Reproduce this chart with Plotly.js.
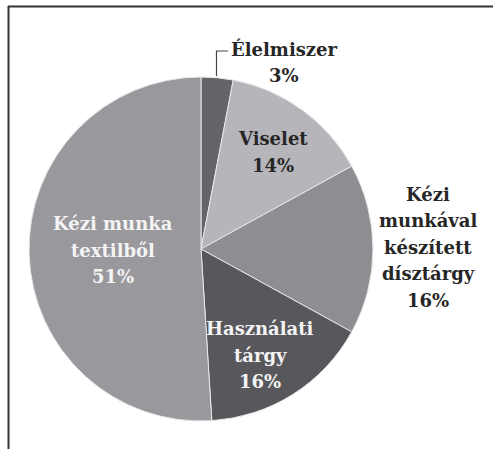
<!DOCTYPE html>
<html>
<head>
<meta charset="utf-8">
<script src="https://cdn.plot.ly/plotly-3.0.1.min.js"></script>
<style>html,body{margin:0;padding:0;background:#fff;}#chart{width:493px;height:449px;}</style>
</head>
<body>
<div id="chart"></div>
<script>
// Data
const categories = ["Élelmiszer", "Viselet", "Kézi munkával készített dísztárgy", "Használati tárgy", "Kézi munka textilből"];
const labelLines = [["Élelmiszer"], ["Viselet"], ["Kézi", "munkával", "készített", "dísztárgy"], ["Használati", "tárgy"], ["Kézi munka", "textilből"]];
const values = [3, 14, 16, 16, 51];
const sliceColors = ["#646469", "#b6b6ba", "#8d8d92", "#58585c", "#98989d"];

const W = 493, H = 449;
const px = x => x / W;
const py = y => 1 - y / H;

// pie geometry (pixels)
const cx = 201, cy = 249, R = 172;

// label centres (pixels) and colours
const labelPos = [[284, 62], [273, 152], [428, 247], [260, 355], [113, 250]];
const labelColor = ["#262626", "#262626", "#262626", "#f4f4f4", "#f4f4f4"];
const lineStep = 26.5;

const fontFam = "DejaVu Serif";

const annotations = [];
categories.forEach((c, i) => {
  const lines = labelLines[i].concat([values[i] + "%"]);
  const n = lines.length;
  lines.forEach((t, k) => {
    annotations.push({
      xref: "paper", yref: "paper",
      x: px(labelPos[i][0]), y: py(labelPos[i][1] + (k - (n - 1) / 2) * lineStep),
      xanchor: "center", yanchor: "middle",
      text: "<b>" + t + "</b>",
      showarrow: false,
      align: "center",
      font: {family: fontFam, size: 18, color: labelColor[i]}
    });
  });
});

const data = [{
  type: "pie",
  labels: categories,
  values: values,
  sort: false,
  direction: "clockwise",
  rotation: 0,
  textinfo: "none",
  hoverinfo: "none",
  marker: {colors: sliceColors, line: {color: "#e8e8ea", width: 1}},
  domain: {x: [px(cx - R), px(cx + R)], y: [py(cy + R), py(cy - R)]},
  showlegend: false
}];

const layout = {
  width: W, height: H,
  margin: {l: 0, r: 0, t: 0, b: 0},
  paper_bgcolor: "#ffffff",
  plot_bgcolor: "#ffffff",
  showlegend: false,
  font: {family: fontFam},
  annotations: annotations,
  shapes: [
    {type: "line", xref: "paper", yref: "paper", x0: px(8), x1: 1, y0: py(6.5), y1: py(6.5), line: {color: "#333333", width: 2}},
    {type: "line", xref: "paper", yref: "paper", x0: px(8.5), x1: px(8.5), y0: py(6), y1: 0, line: {color: "#333333", width: 2}},
    {type: "path", xref: "paper", yref: "paper",
     path: "M " + px(216.5) + " " + py(76) + " L " + px(216.5) + " " + py(51) + " L " + px(228) + " " + py(51),
     line: {color: "#444444", width: 1.2}}
  ]
};

Plotly.newPlot("chart", data, layout, {staticPlot: true});
</script>
</body>
</html>
